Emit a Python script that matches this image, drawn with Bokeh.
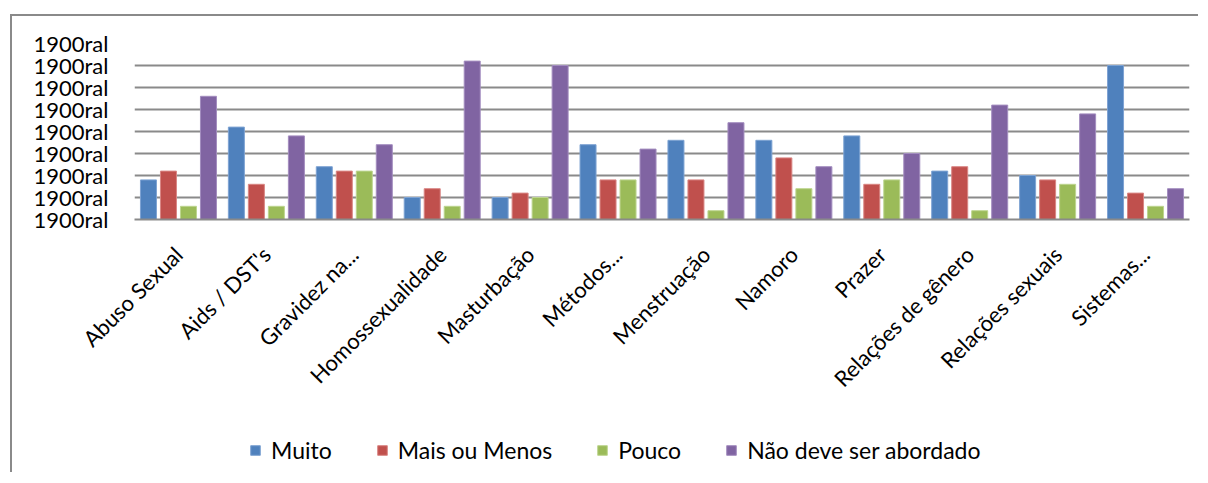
import math
from bokeh.plotting import figure
from bokeh.layouts import column, row
from bokeh.models import (ColumnDataSource, FactorRange, FixedTicker, Legend, LegendItem,
                          Range1d, Spacer)
from bokeh.transform import dodge
from bokeh.embed import file_html
from bokeh.resources import INLINE

categories = ["Abuso Sexual", "Aids / DST's", "Gravidez na...", "Homossexualidade", "Masturbação",
              "Métodos...", "Menstruação", "Namoro", "Prazer", "Relações de gênero",
              "Relações sexuais", "Sistemas..."]
muito = [9, 21, 12, 5, 5, 17, 18, 18, 19, 11, 10, 35]
mais_ou_menos = [11, 8, 11, 7, 6, 9, 9, 14, 8, 12, 9, 6]
pouco = [3, 3, 11, 3, 5, 9, 2, 7, 9, 2, 8, 3]
nao_deve = [28, 19, 17, 36, 35, 16, 22, 12, 15, 26, 24, 7]
series_names = ["Muito", "Mais ou Menos", "Pouco", "Não deve ser abordado"]
tick_values = [0, 5, 10, 15, 20, 25, 30, 35, 40]
tick_label = "1900ral"

colors = ["#4F81BD", "#C0504D", "#9BBB59", "#8064A2"]
edges = ["#7EA3D3", "#D98684", "#BDD58F", "#A38DBF"]
keys = ["s0", "s1", "s2", "s3"]

src = ColumnDataSource(dict(cat=categories, s0=muito, s1=mais_ou_menos, s2=pouco, s3=nao_deve))

font = "Lato"
fs = "22px"
border = "2px solid #8a8a8a"

W = 1188
HP = 410
ML, MT, MR = 122, 27, 11
MB = HP - MT - 176


def blank(h):
    f = figure(x_range=FactorRange(*categories), y_range=Range1d(100, 200),
               width=W, height=h, output_backend="svg", toolbar_location=None,
               min_border_left=0, min_border_top=0, min_border_right=0, min_border_bottom=0)
    f.outline_line_color = None
    f.axis.visible = False
    f.grid.visible = False
    return f


p = figure(x_range=FactorRange(*categories, range_padding=0), y_range=Range1d(0, 40),
           width=W, height=HP, output_backend="svg", toolbar_location=None,
           min_border_left=ML, min_border_top=MT, min_border_right=MR, min_border_bottom=MB)
p.styles = {"border-left": border, "border-top": border}
p.outline_line_color = None

step = 0.2275
bw = 0.182
for i, key in enumerate(keys):
    p.vbar(x=dodge("cat", (i - 1.5) * step, range=p.x_range), top=key, width=bw, source=src,
           fill_color=colors[i], line_color=edges[i], line_width=1)

p.yaxis.ticker = FixedTicker(ticks=tick_values)
p.yaxis.major_label_overrides = {v: tick_label for v in tick_values}
p.yaxis.axis_line_color = None
p.yaxis.major_tick_line_color = None
p.yaxis.minor_tick_line_color = None
p.yaxis.major_label_text_font = font
p.yaxis.major_label_text_font_size = fs
p.yaxis.major_label_text_color = "#000000"
p.yaxis.major_label_standoff = 20

p.xaxis.axis_line_color = "#8a8a8a"
p.xaxis.axis_line_width = 2
p.xaxis.major_tick_line_color = None
p.xaxis.minor_tick_line_color = None
p.xaxis.major_label_orientation = math.pi / 4
p.xaxis.major_label_text_font = font
p.xaxis.major_label_text_font_size = fs
p.xaxis.major_label_text_color = "#000000"
p.xaxis.major_label_standoff = 25

p.xgrid.grid_line_color = None
p.ygrid.grid_line_color = "#8a8a8a"
p.ygrid.grid_line_width = 2

# empty strip above the chart (pushes the chart border down)
top_strip = blank(14)

# legend strip underneath (bars lie outside its visible range; only the legend shows)
HL = 48
leg = blank(HL)
leg.styles = {"border-left": border}
lr = []
for i, key in enumerate(keys):
    lr.append(leg.vbar(x="cat", top=key, width=bw, source=src, fill_color=colors[i],
                       line_color=edges[i]))
legend = Legend(items=[LegendItem(label=series_names[i], renderers=[lr[i]]) for i in range(4)],
                orientation="horizontal", location=(115, 8),
                label_text_font=font, label_text_font_size="23px", label_text_color="#000000",
                glyph_width=12, glyph_height=12, spacing=44, label_standoff=10,
                border_line_color=None, background_fill_alpha=0, margin=0, padding=0)
leg.add_layout(legend, "center")

layout = row(Spacer(width=10), column(top_strip, p, leg, spacing=0), spacing=0)

open("out.html", "w").write(file_html(layout, INLINE))
